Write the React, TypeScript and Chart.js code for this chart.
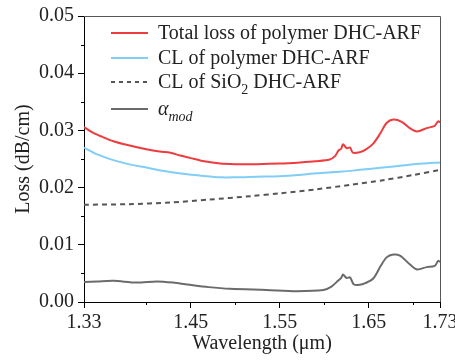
import React, { useEffect, useRef } from "react";
import { Chart, registerables } from "chart.js";

Chart.register(...registerables);

// ---- Data ----
const totalLossX = [1.33, 1.34, 1.35, 1.363, 1.38, 1.40, 1.415, 1.427, 1.438, 1.449, 1.465, 1.483, 1.50, 1.524, 1.55, 1.573, 1.59, 1.606, 1.612, 1.616, 1.619, 1.621, 1.625, 1.629, 1.632, 1.64, 1.646, 1.655, 1.663, 1.67, 1.6775, 1.687, 1.696, 1.704, 1.715, 1.724, 1.728, 1.73];
const totalLossY = [0.0306, 0.0296, 0.0289, 0.0281, 0.0274, 0.0267, 0.0263, 0.0261, 0.0256, 0.0252, 0.0246, 0.0242, 0.0241, 0.0241, 0.0242, 0.0244, 0.0246, 0.0249, 0.0255, 0.0265, 0.0268, 0.0276, 0.0269, 0.0270, 0.0261, 0.0262, 0.0266, 0.0277, 0.0295, 0.0313, 0.0319, 0.0315, 0.0304, 0.0298, 0.0304, 0.0308, 0.0316, 0.0314];

const clPolymerX = [1.33, 1.345, 1.363, 1.38, 1.40, 1.42, 1.437, 1.46, 1.483, 1.50, 1.524, 1.55, 1.57, 1.591, 1.62, 1.64, 1.666, 1.69, 1.71, 1.73];
const clPolymerY = [0.0270, 0.0258, 0.0248, 0.0241, 0.0235, 0.0229, 0.0225, 0.0221, 0.0218, 0.0218, 0.0219, 0.0220, 0.0222, 0.0225, 0.0228, 0.0231, 0.0235, 0.0239, 0.0242, 0.0244];

const clSiO2X = [1.33, 1.38, 1.427, 1.47, 1.517, 1.55, 1.591, 1.63, 1.666, 1.70, 1.73];
const clSiO2Y = [0.0170, 0.0171, 0.0174, 0.0179, 0.0185, 0.0190, 0.0197, 0.0205, 0.0213, 0.0222, 0.0231];

const alphaModX = [1.33, 1.345, 1.363, 1.389, 1.412, 1.43, 1.449, 1.47, 1.494, 1.535, 1.569, 1.599, 1.608, 1.616, 1.619, 1.621, 1.625, 1.629, 1.633, 1.64, 1.646, 1.655, 1.663, 1.67, 1.6775, 1.685, 1.696, 1.704, 1.715, 1.724, 1.728, 1.73];
const alphaModY = [0.0035, 0.0036, 0.0037, 0.0034, 0.0036, 0.0034, 0.0030, 0.0026, 0.0023, 0.0021, 0.0019, 0.0021, 0.0027, 0.0038, 0.0042, 0.0048, 0.0042, 0.0043, 0.0031, 0.0030, 0.0033, 0.0041, 0.0062, 0.0078, 0.0083, 0.0081, 0.0066, 0.0057, 0.0061, 0.0063, 0.0072, 0.0070];

const xMajorTicks = [1.33, 1.45, 1.55, 1.65, 1.73];
const xMinorTicks = [1.40, 1.50, 1.60, 1.70];
const yMinorTicks = [0.005, 0.015, 0.025, 0.035, 0.045];

const FONT = '"Liberation Serif", "Times New Roman", serif';

const toPoints = (xs: number[], ys: number[]) => xs.map((x, i) => ({ x, y: ys[i] }));

const legendItems = [
  { color: "#ee3b3d", dash: [] as number[], parts: [{ t: "Total loss of polymer DHC-ARF" }] },
  { color: "#80cdf6", dash: [] as number[], parts: [{ t: "CL of polymer DHC-ARF" }] },
  { color: "#555555", dash: [4, 4], parts: [{ t: "CL of SiO" }, { t: "2", sub: true }, { t: " DHC-ARF" }] },
  { color: "#6b6b6b", dash: [] as number[], parts: [{ t: "α", italic: true }, { t: "mod", sub: true, italic: true }] },
];

const framePlugin = {
  id: "frame",
  afterDraw(chart: any) {
    const { ctx, chartArea } = chart;
    const { left, right, top, bottom } = chartArea;
    const xs = chart.scales.x;
    const ys = chart.scales.y;
    ctx.save();
    // top & right border
    ctx.strokeStyle = "#555";
    ctx.lineWidth = 1;
    ctx.beginPath();
    ctx.moveTo(left, top + 0.5);
    ctx.lineTo(right + 0.5, top + 0.5);
    ctx.lineTo(right + 0.5, bottom);
    ctx.stroke();
    // minor ticks
    ctx.strokeStyle = "#000";
    ctx.beginPath();
    xMinorTicks.forEach((v) => {
      const px = Math.round(xs.getPixelForValue(v)) + 0.5;
      ctx.moveTo(px, bottom);
      ctx.lineTo(px, bottom + 3);
    });
    yMinorTicks.forEach((v) => {
      const py = Math.round(ys.getPixelForValue(v)) + 0.5;
      ctx.moveTo(left, py);
      ctx.lineTo(left - 3, py);
    });
    ctx.stroke();

    // legend
    const lineX0 = 111;
    const lineX1 = 148;
    const textX = 158;
    const baselines = [39, 64, 88, 115];
    legendItems.forEach((item, i) => {
      const base = baselines[i];
      const ly = base - 6;
      ctx.strokeStyle = item.color;
      ctx.lineWidth = 2;
      ctx.setLineDash(item.dash);
      ctx.beginPath();
      ctx.moveTo(lineX0, ly);
      ctx.lineTo(lineX1, ly);
      ctx.stroke();
      ctx.setLineDash([]);
      let x = textX;
      ctx.fillStyle = "#222";
      ctx.textBaseline = "alphabetic";
      ctx.textAlign = "left";
      item.parts.forEach((p: any) => {
        const size = p.sub ? 14 : 20;
        ctx.font = `${p.italic ? "italic " : ""}${size}px ${FONT}`;
        const y = p.sub ? base + 6 : base;
        ctx.fillText(p.t, x, y);
        x += ctx.measureText(p.t).width;
      });
    });
    ctx.restore();
  },
};

export default function App() {
  const ref = useRef<HTMLCanvasElement>(null);
  useEffect(() => {
    document.body.style.margin = "0";
    const chart = new Chart(ref.current!, {
      type: "line",
      data: {
        datasets: [
          { label: "Total loss of polymer DHC-ARF", data: toPoints(totalLossX, totalLossY), borderColor: "#ee3b3d", borderWidth: 2, pointRadius: 0, tension: 0.3, fill: false },
          { label: "CL of polymer DHC-ARF", data: toPoints(clPolymerX, clPolymerY), borderColor: "#80cdf6", borderWidth: 2, pointRadius: 0, tension: 0.3, fill: false },
          { label: "CL of SiO2 DHC-ARF", data: toPoints(clSiO2X, clSiO2Y), borderColor: "#555555", borderWidth: 2, borderDash: [5, 4], pointRadius: 0, tension: 0.3, fill: false },
          { label: "α_mod", data: toPoints(alphaModX, alphaModY), borderColor: "#6b6b6b", borderWidth: 2, pointRadius: 0, tension: 0.3, fill: false },
        ],
      },
      options: {
        animation: false,
        responsive: false,
        devicePixelRatio: 1,
        layout: { padding: { left: 0, top: 16, right: 15, bottom: 0 } },
        plugins: { legend: { display: false }, tooltip: { enabled: false } },
        scales: {
          x: {
            type: "linear",
            min: 1.33,
            max: 1.73,
            afterBuildTicks: (scale: any) => {
              scale.ticks = xMajorTicks.map((v) => ({ value: v }));
            },
            afterFit: (scale: any) => {
              scale.height = 60;
              scale.paddingLeft = 0;
              scale.paddingRight = 0;
            },
            ticks: {
              autoSkip: false,
              maxRotation: 0,
              padding: 3,
              color: "#222",
              font: { family: FONT, size: 20 },
              callback: (v: any) => Number(v).toFixed(2),
            },
            grid: { drawOnChartArea: false, drawTicks: true, tickLength: 6, tickColor: "#000" },
            border: { display: true, color: "#000", width: 1 },
            title: {
              display: true,
              text: "Wavelength (μm)",
              color: "#222",
              font: { family: FONT, size: 20 },
              padding: { top: 0, bottom: 6 },
            },
          },
          y: {
            type: "linear",
            min: 0,
            max: 0.05,
            afterFit: (scale: any) => {
              scale.width = 84;
              scale.paddingTop = 0;
              scale.paddingBottom = 0;
            },
            ticks: {
              stepSize: 0.01,
              padding: 4,
              color: "#222",
              font: { family: FONT, size: 20 },
              callback: (v: any) => Number(v).toFixed(2),
            },
            grid: { drawOnChartArea: false, drawTicks: true, tickLength: 6, tickColor: "#000" },
            border: { display: true, color: "#000", width: 1 },
            title: {
              display: true,
              text: "Loss (dB/cm)",
              color: "#222",
              font: { family: FONT, size: 20 },
              padding: { top: 12, bottom: 0 },
            },
          },
        },
      },
      plugins: [framePlugin],
    } as any);
    return () => chart.destroy();
  }, []);
  return (
    <div style={{ position: "absolute", left: 0, top: 0, width: 455, height: 362 }}>
      <canvas ref={ref} width={455} height={362} style={{ width: 455, height: 362 }} />
    </div>
  );
}
